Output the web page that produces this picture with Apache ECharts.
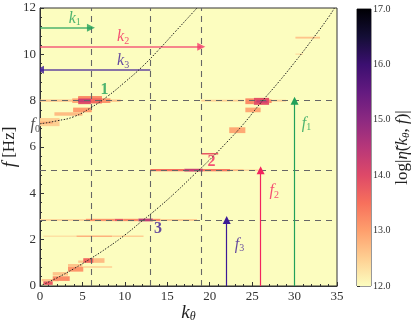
<!DOCTYPE html>
<html>
<head>
<meta charset="utf-8">
<script src="https://cdn.jsdelivr.net/npm/echarts@6/dist/echarts.min.js"></script>
<style>
  html, body { margin: 0; padding: 0; background: #fff; }
  #chart { width: 415px; height: 324px; }
</style>
</head>
<body>
<div id="chart"></div>
<script>
// ---- data ----
// heat cells: k range, f range, log|eta| value
const cellK0 = [0, 8.3, 19, 27, 3.8, 4.5, 4.5, 6, 7.3, 4.5, 3.9, 1.7, 0, 0,
  24.2, 25.2, 25.5, 27, 24.2, 22.3, 30.1, 30.1,
  13, 17, 19.2, 22.4, 24, 19,
  0, 5.4, 8.8, 9.8, 11.6, 13.3, 14.2,
  0.4, 4.3, 8.5,
  0.2, 1.5, 3.3, 4.5, 6.3, 5.1, 0.4, 1.5, 3.3, 5.1];
const cellK1 = [4.5, 9.5, 24, 29, 4.5, 6, 6.5, 7.3, 8.3, 7.3, 6.1, 5, 2.3, 1.5,
  25.2, 27, 26.8, 27.3, 26, 24.2, 33, 31,
  17, 19.2, 22.4, 24, 26, 21,
  5.4, 8.8, 9.8, 11.6, 13.3, 14.2, 18.5,
  4.3, 8.5, 12.2,
  2.2, 3.3, 5, 5.1, 7.6, 8.5, 1.5, 3.5, 5.1, 6.3];
const cellF0 = [7.95, 7.95, 7.96, 7.96, 7.9, 7.85, 7.93, 7.88, 7.9, 8.1, 7.5, 7.35, 6.9, 7.0,
  7.85, 7.82, 7.92, 7.9, 7.5, 6.6, 10.68, 9.98,
  4.95, 4.94, 4.95, 4.96, 4.97, 5.68,
  2.81, 2.8, 2.8, 2.8, 2.79, 2.8, 2.81,
  2.12, 2.12, 2.12,
  0.2, 0.45, 0.83, 1.0, 1.0, 0.78, 0.05, 0.22, 0.62, 1.0];
const cellF1 = [8.05, 8.05, 8.04, 8.04, 8.1, 8.15, 8.07, 8.12, 8.1, 8.2, 7.7, 7.5, 7.25, 7.1,
  8.1, 8.12, 8.02, 8.05, 7.7, 6.85, 10.76, 10.04,
  5.05, 5.06, 5.05, 5.04, 5.03, 5.74,
  2.89, 2.9, 2.9, 2.9, 2.91, 2.9, 2.89,
  2.18, 2.18, 2.18,
  0.3, 0.6, 0.95, 1.1, 1.2, 0.86, 0.2, 0.42, 0.83, 1.2];
const cellVal = [12.6, 12.6, 12.5, 12.5, 12.9, 13.9, 14.3, 13.6, 13.1, 13.2, 13.0, 12.7, 12.5, 12.8,
  13.2, 13.9, 14.3, 13.2, 12.9, 12.9, 12.6, 12.3,
  13.5, 14.3, 13.4, 12.7, 12.4, 13.8,
  12.4, 13.1, 13.8, 13.2, 14.4, 13.2, 12.5,
  12.3, 12.8, 12.5,
  12.6, 12.6, 12.6, 12.6, 12.7, 12.4, 13.8, 13.2, 13.1, 13.6];

// dispersion curves (k, f)
const curve1K = [0, 2, 4, 6, 8, 10, 12, 14, 16, 18, 18.5];
const curve1F = [7.0, 7.13, 7.31, 7.7, 8.2, 8.8, 9.45, 10.2, 11.0, 11.8, 12];
const curve2K = [0, 2, 4, 6, 8, 10, 12, 14, 16, 18, 20, 22, 24, 26, 28, 30, 32, 34, 34.7];
const curve2F = [0, 0.35, 0.75, 1.19, 1.67, 2.2, 2.8, 3.4, 4.05, 4.75, 5.45, 6.2, 7.0, 7.9, 8.75, 9.65, 10.6, 11.6, 12];

// dashed guide lines
const guideK = [6, 13, 19];
const guideF = [8, 5, 2.85];

// arrows: from -> to
const arrowFromK = [0, 0, 13, 30, 26, 22];
const arrowFromF = [11.15, 10.33, 9.33, 0, 0, 0];
const arrowToK = [6, 19, 0, 30, 26, 22];
const arrowToF = [11.15, 10.33, 9.33, 8, 5, 2.85];
const arrowColor = ['#22a05a', '#f2386b', '#3c1a96', '#22a05a', '#f2245f', '#3c1a96'];

// text annotations
const noteK = [4.1, 9.8, 9.8, 31.4, 27.6, 23.5, 7.6, 20.2, 13.9, -0.55];
const noteF = [11.55, 10.75, 9.7, 7.0, 4.1, 1.8, 8.45, 5.35, 2.45, 6.95];
const noteText = ['{i|k}{s|1}', '{i|k}{s|2}', '{i|k}{s|3}', '{i|f}{s|1}', '{i|f}{s|2}', '{i|f}{s|3}',
  '{b|1}', '{b|2}', '{b|3}', '{i|f}{s|0}'];
const noteColor = ['#22a05a', '#f2245f', '#3c1a96', '#22a05a', '#f2245f', '#3c1a96',
  '#22a05a', '#f2245f', '#3c1a96', '#222'];

// colour bar
const cbarMin = 12;
const cbarMax = 17;
const magmaR = ['#fcfdbf', '#fecf92', '#fe9f6d', '#f7705c', '#de4968', '#b73779',
  '#8c2981', '#641a80', '#3b0f70', '#140e36', '#000004'];

// ---- build ----
const serif = 'Liberation Serif, DejaVu Serif, serif';
const cells = cellK0.map((k, i) => [k, cellK1[i], cellF0[i], cellF1[i], cellVal[i]]);

const guideLines = [];
guideK.forEach(k => guideLines.push({ coords: [[k, 0], [k, 12]] }));
guideF.forEach(f => guideLines.push({ coords: [[0, f], [35, f]] }));

const arrows = arrowFromK.map((k, i) => ({
  coords: [[k, arrowFromF[i]], [arrowToK[i], arrowToF[i]]],
  lineStyle: { color: arrowColor[i], width: i < 3 ? 1.6 : 1.2, opacity: i < 3 ? 0.8 : 1 }
}));

const notes = noteK.map((k, i) => ({
  value: [k, noteF[i]],
  label: { formatter: noteText[i], color: noteColor[i] }
}));

const richText = {
  i: { fontFamily: serif, fontStyle: 'italic', fontSize: 16 },
  s: { fontFamily: serif, fontSize: 10, padding: [8, 0, 0, 0] },
  b: { fontFamily: serif, fontWeight: 'bold', fontSize: 16 }
};

const chart = echarts.init(document.getElementById('chart'), null, { renderer: 'canvas' });

chart.setOption({
  animation: false,
  backgroundColor: '#fff',
  grid: [
    { left: 40, right: 78, top: 8, bottom: 38, show: true, backgroundColor: magmaR[0],
      borderColor: '#333', borderWidth: 1, containLabel: false, outerBoundsMode: 'none' },
    { left: 357, width: 14, top: 9, bottom: 38, show: true, borderColor: '#333', borderWidth: 1,
      containLabel: false, outerBoundsMode: 'none' }
  ],
  xAxis: [
    { type: 'value', gridIndex: 0, min: 0, max: 35, interval: 5,
      axisLine: { lineStyle: { color: '#333' } },
      axisTick: { inside: true, length: 4, lineStyle: { color: '#333' } },
      minorTick: { show: true, splitNumber: 5, length: 2, lineStyle: { color: '#333' } },
      splitLine: { show: false },
      axisLabel: { fontFamily: serif, fontSize: 13, color: '#333', margin: 4 },
      name: '{i|k}{s|θ}', nameLocation: 'middle', nameGap: 16, nameMoveOverlap: false,
      nameTextStyle: { color: '#222', rich: {
        i: { fontFamily: serif, fontStyle: 'italic', fontSize: 19 },
        s: { fontFamily: serif, fontStyle: 'italic', fontSize: 12, padding: [9, 0, 0, 0] } } } },
    { type: 'value', gridIndex: 1, min: 0, max: 1, show: false }
  ],
  yAxis: [
    { type: 'value', gridIndex: 0, min: 0, max: 12, interval: 2,
      axisLine: { lineStyle: { color: '#333' } },
      axisTick: { inside: true, length: 4, lineStyle: { color: '#333' } },
      minorTick: { show: true, splitNumber: 5, length: 2, lineStyle: { color: '#333' } },
      splitLine: { show: false },
      axisLabel: { fontFamily: serif, fontSize: 13, color: '#333', margin: 4 },
      name: '{i|f} [Hz]', nameLocation: 'middle', nameGap: 21, nameMoveOverlap: false,
      nameTextStyle: { color: '#222', fontFamily: serif, fontSize: 17, rich: {
        i: { fontFamily: serif, fontStyle: 'italic', fontSize: 19 } } } },
    { type: 'value', gridIndex: 1, min: cbarMin, max: cbarMax, interval: 1, position: 'right',
      axisLine: { show: false },
      axisTick: { show: true, length: 3, lineStyle: { color: '#333' } },
      splitLine: { show: false },
      axisLabel: { fontFamily: serif, fontSize: 10, color: '#333', margin: 2,
        formatter: v => v.toFixed(1) },
      name: 'log|{i|η̃}({i|k}{s|θ}, {i|f})|', nameLocation: 'middle', nameGap: 23, nameRotate: 90,
      nameTextStyle: { color: '#222', fontFamily: serif, fontSize: 17, rich: {
        i: { fontFamily: serif, fontStyle: 'italic', fontSize: 17 },
        s: { fontFamily: serif, fontStyle: 'italic', fontSize: 11, padding: [7, 0, 0, 0] } } } }
  ],
  visualMap: {
    type: 'continuous', show: false, seriesIndex: 0, dimension: 4,
    min: cbarMin, max: cbarMax, inRange: { color: magmaR }
  },
  series: [
    {
      type: 'custom', xAxisIndex: 0, yAxisIndex: 0, clip: true,
      encode: { x: [0, 1], y: [2, 3] },
      data: cells,
      renderItem: (params, api) => {
        const a = api.coord([api.value(0), api.value(3)]);
        const b = api.coord([api.value(1), api.value(2)]);
        return { type: 'rect',
          shape: { x: a[0], y: a[1], width: b[0] - a[0], height: Math.max(b[1] - a[1], 1.5) },
          style: { fill: api.visual('color') } };
      }
    },
    {
      type: 'lines', coordinateSystem: 'cartesian2d', xAxisIndex: 0, yAxisIndex: 0,
      lineStyle: { color: '#666', width: 1.1, type: [6, 5], opacity: 1 },
      data: guideLines
    },
    {
      type: 'line', xAxisIndex: 0, yAxisIndex: 0, showSymbol: false, smooth: true,
      lineStyle: { color: '#222', width: 1, type: [1.5, 1.5] },
      data: curve1K.map((k, i) => [k, curve1F[i]])
    },
    {
      type: 'line', xAxisIndex: 0, yAxisIndex: 0, showSymbol: false, smooth: true,
      lineStyle: { color: '#222', width: 1, type: [1.5, 1.5] },
      data: curve2K.map((k, i) => [k, curve2F[i]])
    },
    {
      type: 'lines', coordinateSystem: 'cartesian2d', xAxisIndex: 0, yAxisIndex: 0,
      symbol: ['none', 'triangle'], symbolSize: [0, 8],
      data: arrows
    },
    {
      type: 'scatter', xAxisIndex: 0, yAxisIndex: 0, symbolSize: 0, clip: false,
      label: { show: true, position: 'inside', rich: richText },
      data: notes
    },
    {
      type: 'custom', xAxisIndex: 1, yAxisIndex: 1,
      data: [[0, 1, cbarMin, cbarMax]],
      renderItem: (params, api) => {
        const a = api.coord([api.value(0), api.value(3)]);
        const b = api.coord([api.value(1), api.value(2)]);
        const stops = magmaR.map((c, i) => ({ offset: 1 - i / (magmaR.length - 1), color: c }));
        return { type: 'rect',
          shape: { x: a[0], y: a[1], width: b[0] - a[0], height: b[1] - a[1] },
          style: { fill: new echarts.graphic.LinearGradient(0, 0, 0, 1, stops) } };
      }
    }
  ]
});
</script>
</body>
</html>
